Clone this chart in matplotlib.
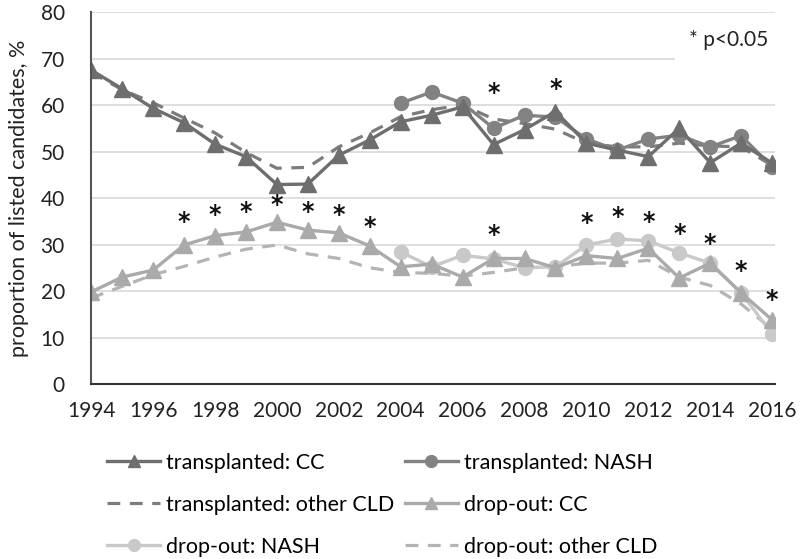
import numpy as np
import matplotlib.pyplot as plt

plt.rcParams['font.family'] = ['Lato', 'DejaVu Sans']

years = list(range(1994, 2017))
nash_years = list(range(2004, 2017))

# transplanted
tx_cc = [67.5, 63.5, 59.3, 56.2, 51.6, 48.9, 42.9, 43.0, 49.2, 52.5, 56.4, 57.8,
         59.6, 51.5, 54.7, 58.6, 51.8, 50.3, 48.9, 55.0, 47.6, 51.8, 47.5]
tx_nash = [60.4, 62.8, 60.4, 55.0, 57.8, 57.4, 52.7, 50.3, 52.7, 53.5, 51.0, 53.4, 46.7]
tx_other = [67.0, 63.3, 60.5, 57.2, 54.0, 49.8, 46.4, 46.6, 51.0, 54.0, 57.5, 59.0,
            60.0, 57.0, 56.0, 54.8, 51.8, 51.0, 51.0, 51.8, 51.2, 51.0, 47.0]

# drop-out
do_cc = [19.8, 23.0, 24.5, 29.9, 31.9, 32.7, 34.8, 33.1, 32.5, 29.7, 25.2, 25.8,
         23.0, 27.0, 27.0, 25.0, 27.6, 27.0, 29.2, 22.8, 26.0, 19.6, 13.8]
do_nash = [28.4, 25.2, 27.7, 26.9, 25.0, 25.2, 29.9, 31.2, 30.8, 28.2, 26.0, 19.6, 10.8]
do_other = [18.5, 21.0, 23.5, 25.3, 27.3, 29.0, 29.9, 28.0, 27.0, 25.0, 24.0, 23.8,
            23.2, 24.0, 25.0, 25.2, 26.0, 26.0, 26.6, 23.0, 21.2, 17.2, 11.8]

# significance stars (year, height)
star_years = [2007, 2009, 1997, 1998, 1999, 2000, 2001, 2002, 2003,
              2007, 2010, 2011, 2012, 2013, 2014, 2015, 2016]
star_vals = [62.5, 63.5, 34.8, 36.4, 36.9, 38.5, 37.1, 36.3, 33.8,
             32.0, 34.6, 36.0, 34.8, 32.2, 30.2, 24.2, 18.0]

fig = plt.figure(figsize=(8, 5.59), dpi=100)
ax = fig.add_axes([0.114, 0.313, 0.855, 0.6655])

c_tcc = '#6e6e6e'
c_tnash = '#828282'
c_tother = '#7c7c7c'
c_dcc = '#aaaaaa'
c_dnash = '#c9c9c9'
c_dother = '#b4b4b4'

l_tother, = ax.plot(years, tx_other, color=c_tother, lw=2.3, ls=(0, (4, 3)),
                    label='transplanted: other CLD')
l_dother, = ax.plot(years, do_other, color=c_dother, lw=2.3, ls=(0, (4, 3)),
                    label='drop-out: other CLD')
l_dnash, = ax.plot(nash_years, do_nash, color=c_dnash, lw=2.4, marker='o', ms=10,
                   label='drop-out: NASH')
l_dcc, = ax.plot(years, do_cc, color=c_dcc, lw=2.4, marker='^', ms=11,
                 label='drop-out: CC')
l_tnash, = ax.plot(nash_years, tx_nash, color=c_tnash, lw=2.4, marker='o', ms=10,
                   label='transplanted: NASH')
l_tcc, = ax.plot(years, tx_cc, color=c_tcc, lw=2.4, marker='^', ms=11,
                 label='transplanted: CC')

for x, y in zip(star_years, star_vals):
    ax.text(x, y, '*', ha='center', va='center', fontsize=17, fontweight='bold',
            color='#111111', family='DejaVu Sans')

ax.text(2015.87, 74, '* p<0.05', ha='right', va='center', fontsize=15,
        color='#222222', bbox=dict(facecolor='white', edgecolor='none', pad=10))

ax.set_xlim(1994, 2016.1)
ax.set_ylim(0, 80)
ax.set_xticks(range(1994, 2017, 2))
ax.set_yticks(range(0, 81, 10))
ax.tick_params(labelsize=15, length=0, colors='#222222')
ax.tick_params(axis='y', pad=19)
ax.tick_params(axis='x', pad=12)
ax.grid(axis='y', color='#d9d9d9', lw=1.2)
ax.set_axisbelow(True)
for s in ['top', 'right']:
    ax.spines[s].set_visible(False)
ax.spines['left'].set_color('#555555')
ax.spines['left'].set_linewidth(1.5)
ax.spines['bottom'].set_color('#333333')
ax.spines['bottom'].set_linewidth(1.5)
ax.set_ylabel('proportion of listed candidates, %', fontsize=15.5, color='#222222',
              labelpad=8)

handles = [l_tcc, l_tother, l_dnash, l_tnash, l_dcc, l_dother]
fig.legend(handles=handles, labels=[h.get_label() for h in handles], ncol=2,
           loc='upper left', bbox_to_anchor=(0.134, 0.19), frameon=False,
           fontsize=15.5, handlelength=2.45, handletextpad=0.28, columnspacing=0.5,
           labelspacing=1.02, markerscale=0.85, borderaxespad=0, borderpad=0)

fig.savefig('out.png', dpi=100)
